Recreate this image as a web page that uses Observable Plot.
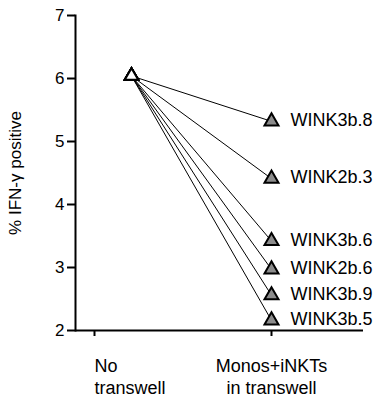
<!DOCTYPE html>
<html>
<head>
<meta charset="utf-8">
<script src="https://cdn.jsdelivr.net/npm/d3@7"></script>
<script src="https://cdn.jsdelivr.net/npm/@observablehq/plot@0.6"></script>
<style>
  html, body { margin: 0; padding: 0; background: #fff; }
</style>
</head>
<body>
<div id="chart"></div>
<script>
const categories = ["No transwell", "Monos+iNKTs in transwell"];
const categoryLabels = ["No\ntranswell", "Monos+iNKTs\nin transwell"];
const donors = ["WINK3b.8", "WINK2b.3", "WINK3b.6", "WINK2b.6", "WINK3b.9", "WINK3b.5"];
const noTranswell = [6.04, 6.04, 6.04, 6.04, 6.04, 6.04];
const inTranswell = [5.32, 4.41, 3.42, 2.97, 2.56, 2.16];
const yTicks = [2, 3, 4, 5, 6, 7];

const rows = donors.map((d, i) => ({donor: d, a: noTranswell[i], b: inTranswell[i]}));

const chart = Plot.plot({
  width: 375,
  height: 398,
  marginLeft: 75,
  marginRight: 12,
  marginTop: 15,
  marginBottom: 68,
  style: {fontFamily: "Arial, 'Liberation Sans', sans-serif", fontSize: "17px", color: "black", background: "white"},
  x: {type: "point", domain: categories, range: [131, 271], padding: 0},
  y: {domain: [2, 7]},
  marks: [
    Plot.link(rows, {x1: () => categories[0], y1: "a", x2: () => categories[1], y2: "b", stroke: "black", strokeWidth: 1}),
    Plot.dot(rows, {x: () => categories[0], y: "a", symbol: "triangle", r: 5, fill: "white", stroke: "black", strokeWidth: 2}),
    Plot.dot(rows, {x: () => categories[1], y: "b", symbol: "triangle", r: 5.2, fill: "#8c8c8c", stroke: "black", strokeWidth: 2}),
    Plot.text(rows, {x: () => categories[1], y: "b", text: "donor", textAnchor: "start", dx: 19, dy: -1, fontSize: 18}),
    Plot.axisY({ticks: yTicks, tickSize: 8, tickPadding: 3, strokeWidth: 2, fontSize: 17,
      tickFormat: (d) => String(d),
      label: "% IFN-\u03b3 positive", labelAnchor: "center", labelArrow: "none", labelOffset: 67}),
    Plot.axisX({ticks: [categories[0]], tickSize: 6, tickPadding: 20, strokeWidth: 2, fontSize: 18,
      lineHeight: 1.22, textAnchor: "start", dx: -37, label: null,
      tickFormat: (d) => categoryLabels[categories.indexOf(d)]}),
    Plot.axisX({ticks: [categories[1]], tickSize: 6, tickPadding: 20, strokeWidth: 2, fontSize: 18,
      lineHeight: 1.22, label: null,
      tickFormat: (d) => categoryLabels[categories.indexOf(d)]}),
    Plot.ruleY([2], {stroke: "black", strokeWidth: 2}),
    Plot.frame({anchor: "left", stroke: "black", strokeWidth: 2})
  ]
});
document.getElementById("chart").appendChild(chart);
</script>
</body>
</html>
